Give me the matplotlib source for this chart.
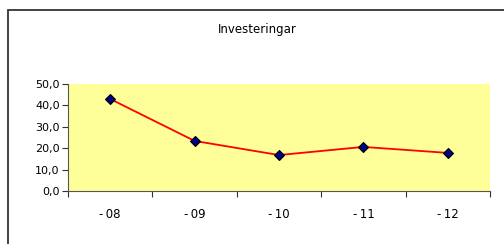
import matplotlib
matplotlib.use("Agg")
import matplotlib.pyplot as plt
from matplotlib.patches import Rectangle
from matplotlib.ticker import FixedLocator, NullFormatter

# data
years = ['-08', '-09', '-10', '-11', '-12']
invest = [43.0, 23.4, 16.8, 20.6, 17.8]
yticks = [0, 10, 20, 30, 40, 50]

W, H = 504, 244
fig = plt.figure(figsize=(W / 100, H / 100), dpi=100)
fig.patch.set_facecolor('white')

# outer chart frame (runs off the right and bottom edge)
fig.patches.append(Rectangle((8 / W, -0.1), 1.2, 1 - 10 / H + 0.1,
                             transform=fig.transFigure, fill=False,
                             edgecolor='#333333', linewidth=1.3))

# plot area
ax = fig.add_axes([68 / W, 1 - 191 / H, (490 - 68) / W, (191 - 84) / H])
ax.set_facecolor('#FFFF99')
x = list(range(len(years)))
ax.plot(x, invest, color='red', linewidth=1.3, marker='D', markersize=5.5,
        markerfacecolor='#000080', markeredgecolor='black', markeredgewidth=0.8)

ax.set_xlim(-0.5, len(years) - 0.5)
ax.set_ylim(0, 50)
ax.set_yticks(yticks)
ax.set_yticklabels(['%d,0' % v for v in yticks])

# category labels centred, tick marks between the categories
ax.set_xticks(x)
ax.set_xticklabels([y.replace('-', '-\u2009', 1) for y in years])
ax.tick_params(axis='x', which='major', length=0, pad=12, labelsize=8.5)
ax.xaxis.set_minor_locator(FixedLocator([i - 0.5 for i in range(len(years) + 1)]))
ax.xaxis.set_minor_formatter(NullFormatter())
ax.tick_params(axis='x', which='minor', length=4, width=0.8, color='#333333')
ax.tick_params(axis='y', length=4, width=0.8, color='#333333', labelsize=8, pad=2)

for s in ['top', 'right']:
    ax.spines[s].set_visible(False)
for s in ['left', 'bottom']:
    ax.spines[s].set_color('#555555')
    ax.spines[s].set_linewidth(0.8)

fig.text(257 / W, 1 - 29 / H, 'Investeringar', ha='center', va='center', fontsize=8.5)

fig.savefig('out.png', dpi=100)
